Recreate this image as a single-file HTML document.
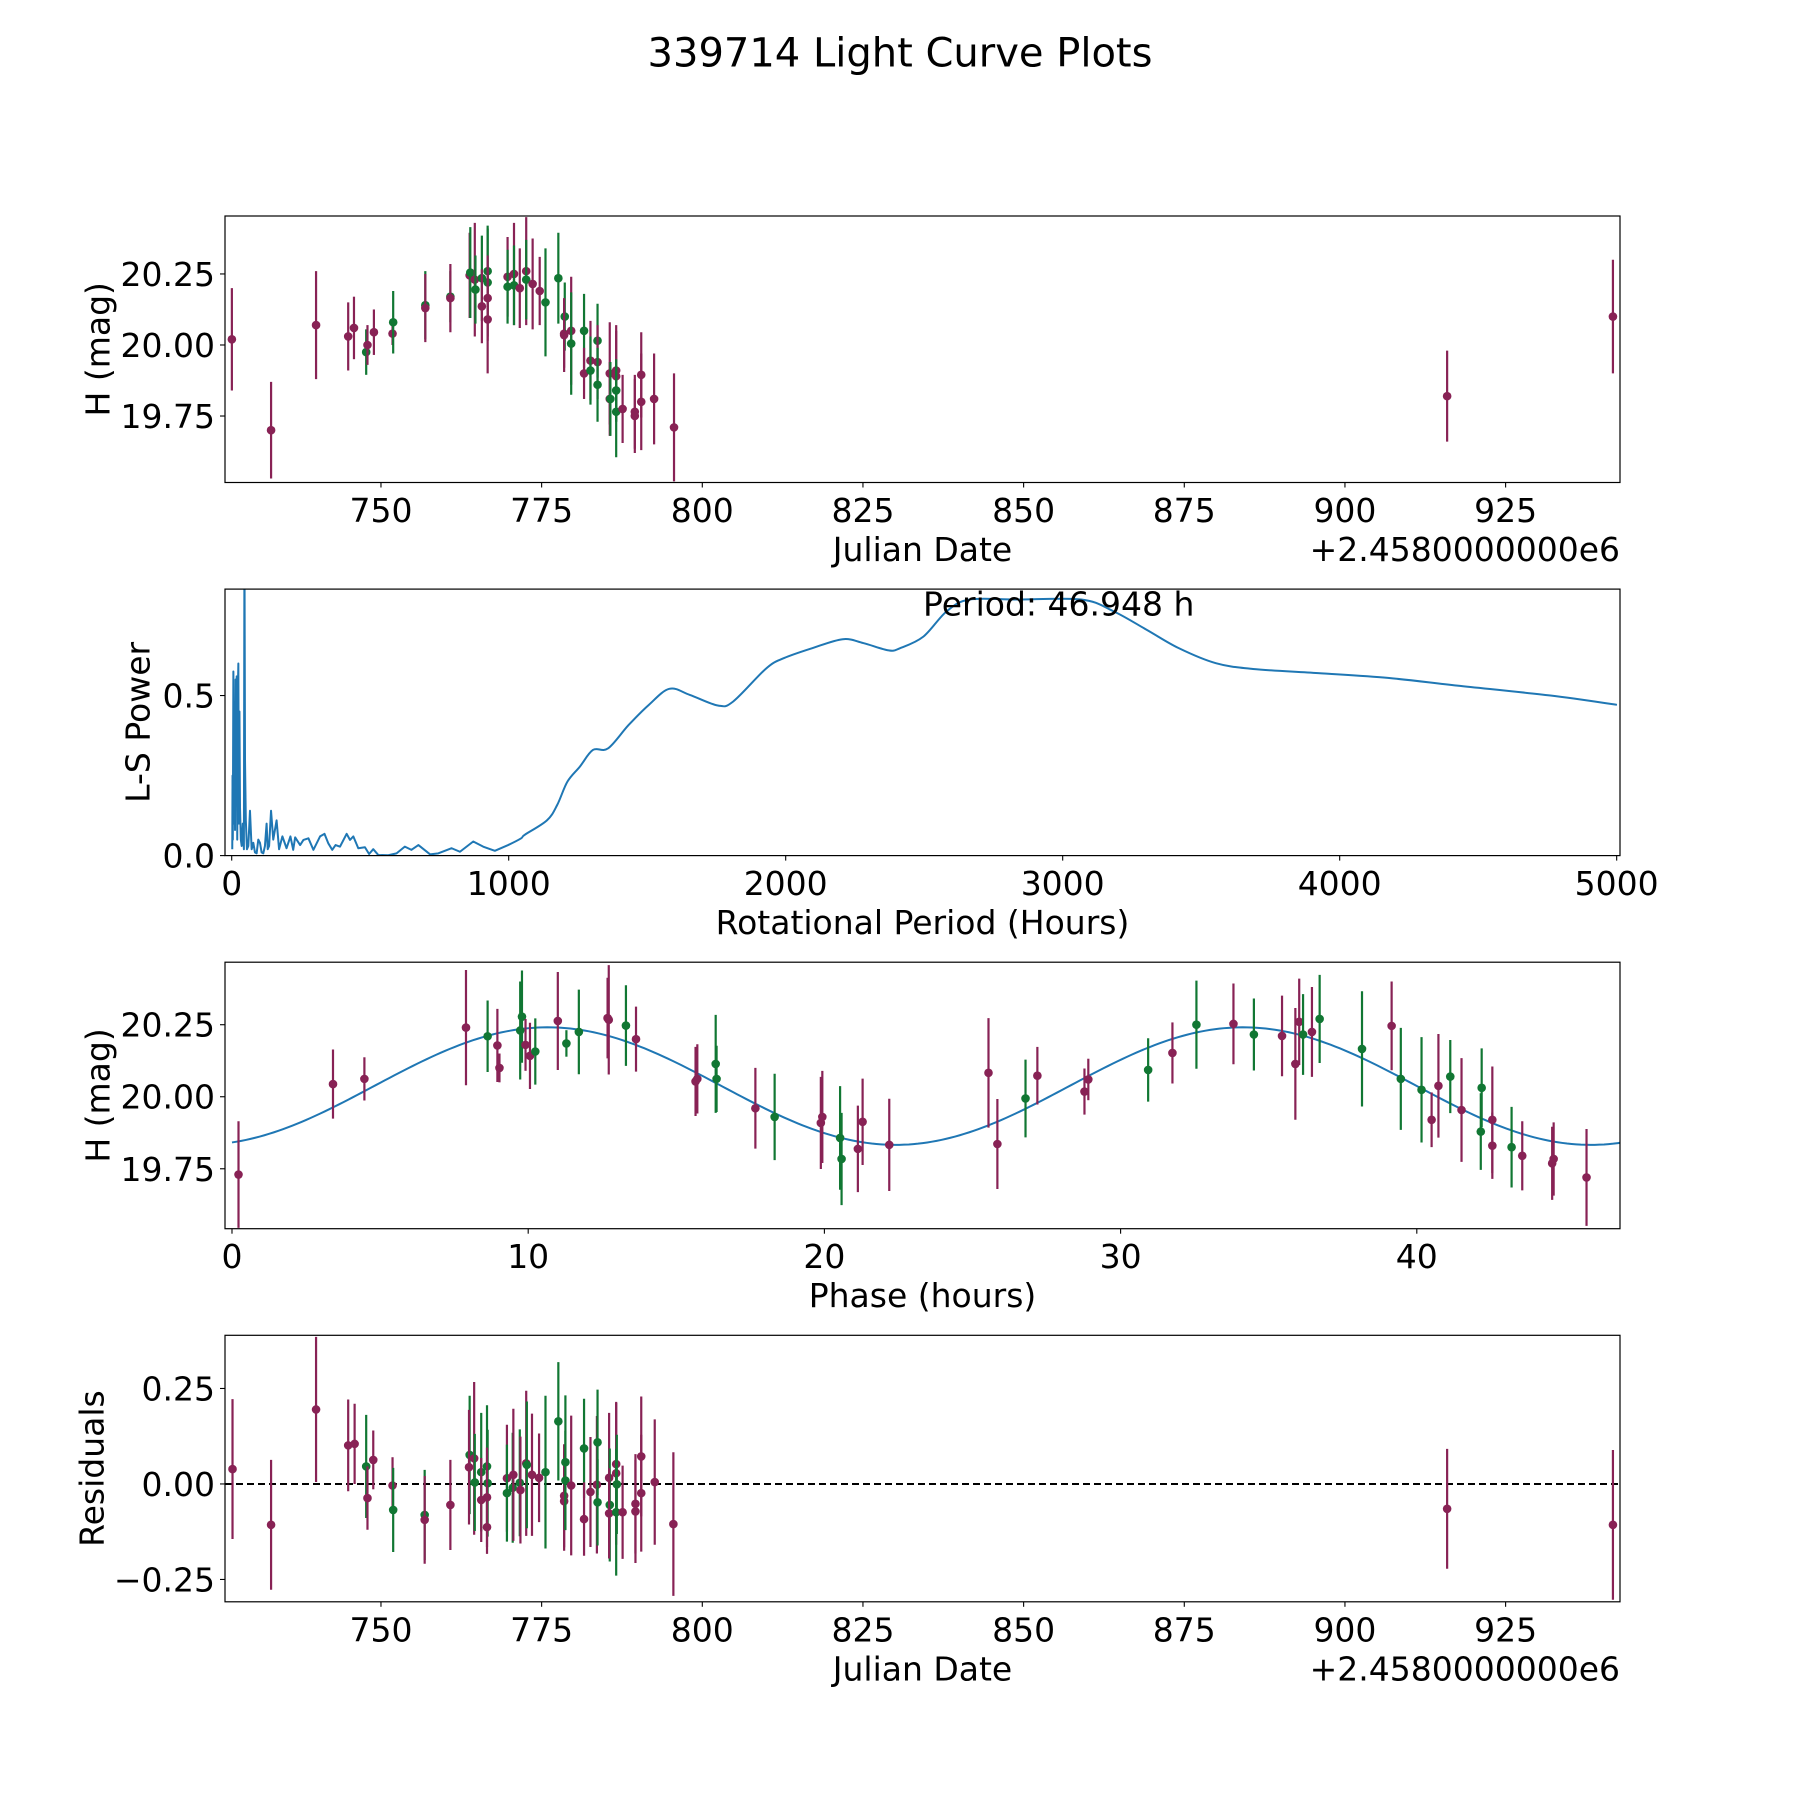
<!DOCTYPE html>
<html><head><meta charset="utf-8"><title>339714 Light Curve Plots</title>
<style>
html,body{margin:0;padding:0;background:#fff;}
svg{display:block;font-family:"DejaVu Sans","Liberation Sans",sans-serif;}
</style></head>
<body>
<svg id="fig" width="1800" height="1800" viewBox="0 0 1800 1800" xmlns="http://www.w3.org/2000/svg">
<rect width="1800" height="1800" fill="#fff"/>
<text x="900" y="66.7" font-size="40" text-anchor="middle">339714 Light Curve Plots</text>
</svg>
<script>
// ---------- Panel 1: H vs Julian Date ----------
const lcJD = [726.8,732.9,739.9,744.9,745.8,747.7,747.9,748.9,751.8,751.9,756.9,756.9,760.8,760.8,763.8,763.9,764.6,764.7,765.7,765.7,766.6,766.6,766.6,766.6,769.7,769.7,770.7,770.7,771.6,772.6,772.6,773.6,774.7,775.6,777.6,778.5,778.6,778.5,779.6,779.6,781.6,781.6,782.6,782.6,783.7,783.7,783.7,785.6,785.6,785.7,786.6,786.6,786.6,786.6,787.6,789.5,789.5,790.5,790.5,792.5,795.6,915.9,941.7];
const lcMag = [20.02,19.70,20.07,20.03,20.06,19.975,20.00,20.045,20.04,20.08,20.14,20.13,20.17,20.165,20.245,20.255,20.23,20.195,20.235,20.136,20.26,20.22,20.165,20.09,20.24,20.205,20.25,20.21,20.20,20.26,20.23,20.215,20.19,20.15,20.235,20.04,20.10,20.035,20.05,20.005,20.05,19.90,19.945,19.91,20.015,19.94,19.86,19.90,19.81,19.81,19.91,19.89,19.84,19.765,19.775,19.765,19.75,19.895,19.80,19.81,19.71,19.82,20.10];
const lcErr = [0.18,0.17,0.19,0.12,0.11,0.08,0.07,0.08,0.04,0.11,0.12,0.12,0.09,0.12,0.15,0.16,0.2,0.12,0.15,0.13,0.16,0.19,0.15,0.19,0.14,0.13,0.18,0.14,0.14,0.19,0.14,0.16,0.12,0.19,0.16,0.12,0.12,0.13,0.19,0.18,0.13,0.09,0.14,0.12,0.13,0.13,0.13,0.18,0.13,0.13,0.16,0.16,0.11,0.16,0.12,0.13,0.13,0.15,0.17,0.16,0.19,0.16,0.2];
const lcBand = "PPPPPGPPPGGPGPPGPGGPGGPPPGPGPPGPPGGPGPPGGPPGGPGPPGPPGGPPPPPPPPP";

// ---------- Panel 2: Lomb-Scargle ----------
const lsPeriod = [2,3,4,6,8,10,12,14,16,18,20,22,24,26,28,30,33,36,40,44,46,48,51,55,60,66,72,78,84,90,96,102,108,114,120,126,130,135,142,150,156,162,171,183,198,212,222,229,247,259,277,295,319,335,349,363,375,391,415,427,439,457,481,496,511,529,565,595,625,649,674,716,746,794,824,872,908,950,998,1045,1058,1138,1175,1212,1257,1304,1359,1433,1506,1580,1654,1755,1810,1930,1994,2096,2206,2280,2372,2413,2497,2581,2664,2832,3067,3184,3302,3419,3553,3687,3922,4174,4425,4761,5001];
const lsPower = [0.02,0.25,0.05,0.575,0.1,0.48,0.08,0.55,0.2,0.56,0.05,0.5,0.6,0.1,0.45,0.15,0.05,0.03,0.1,0.02,1.0,0.3,0.11,0.02,0.03,0.14,0.02,0.04,0.01,0.007,0.05,0.04,0.01,0.007,0.03,0.1,0.02,0.03,0.14,0.05,0.08,0.11,0.02,0.06,0.023,0.06,0.018,0.057,0.033,0.049,0.054,0.018,0.06,0.068,0.038,0.018,0.033,0.028,0.068,0.049,0.06,0.023,0.026,0.005,0.02,0.002,0.001,0.007,0.028,0.018,0.033,0.004,0.007,0.023,0.012,0.044,0.028,0.015,0.033,0.054,0.065,0.11,0.158,0.231,0.278,0.33,0.335,0.408,0.471,0.521,0.502,0.469,0.481,0.585,0.617,0.648,0.676,0.664,0.641,0.648,0.684,0.763,0.80,0.80,0.80,0.763,0.706,0.648,0.601,0.583,0.57,0.555,0.531,0.50,0.471];
const bestPeriod = 46.948;

// ---------- Panel 3: phase folded ----------
const phPhase = [0.22,3.41,4.47,7.9,8.63,8.96,9.03,9.73,9.79,9.91,10.06,10.24,11.0,11.29,11.71,12.68,12.72,13.3,13.64,15.65,15.71,16.33,16.36,17.67,18.32,19.88,19.93,20.53,20.58,21.13,21.29,22.19,25.54,25.84,26.79,27.19,28.78,28.91,30.93,31.75,32.56,33.81,34.5,35.45,35.9,36.03,36.16,36.46,36.72,38.15,39.15,39.46,40.16,40.5,40.73,41.13,41.51,42.16,42.19,42.55,42.55,43.2,43.56,44.57,44.62,45.73];
const phMag = [19.73,20.044,20.062,20.24,20.21,20.178,20.10,20.23,20.278,20.18,20.142,20.157,20.263,20.185,20.225,20.273,20.267,20.247,20.2,20.053,20.062,20.114,20.062,19.96,19.93,19.909,19.93,19.857,19.784,19.819,19.913,19.833,20.083,19.836,19.994,20.073,20.018,20.06,20.093,20.152,20.25,20.253,20.216,20.211,20.114,20.26,20.216,20.225,20.27,20.166,20.246,20.062,20.024,19.92,20.038,20.07,19.954,19.879,20.031,19.92,19.83,19.825,19.795,19.769,19.784,19.72];
const phErr = [0.185,0.12,0.075,0.2,0.124,0.127,0.05,0.17,0.16,0.09,0.115,0.115,0.17,0.046,0.147,0.14,0.19,0.14,0.113,0.12,0.12,0.17,0.115,0.14,0.15,0.16,0.16,0.18,0.16,0.15,0.15,0.16,0.19,0.156,0.135,0.10,0.08,0.072,0.11,0.106,0.153,0.14,0.125,0.14,0.194,0.15,0.14,0.156,0.153,0.2,0.154,0.177,0.183,0.095,0.18,0.127,0.18,0.133,0.137,0.185,0.115,0.14,0.12,0.127,0.127,0.168];
const phBand = "PPPPGPPGGPPGPGGPPGPPPGGPGPPGGPPPPPGPPPGPGPGPPPGPGGPGGPPGPGGPPGPPPP";
const fitMean = 20.037, fitAmp = 0.204, fitMinPhase = 22.4;

// ---------- Panel 4: residuals ----------
const resJD = [726.9,732.9,739.9,744.9,745.9,747.7,747.9,748.8,751.8,751.9,756.8,756.8,760.8,763.8,763.7,764.5,764.6,765.6,765.6,766.5,766.6,766.5,766.5,769.6,769.6,770.5,770.6,771.6,771.7,772.6,772.7,773.5,774.6,775.6,777.6,778.5,778.5,778.7,778.7,779.6,781.6,781.6,782.6,783.6,783.7,783.7,785.5,785.6,785.5,786.6,786.6,786.7,786.6,787.6,789.6,789.6,790.5,790.5,792.6,795.5,915.9,941.7];
const resVal = [0.039,-0.107,0.195,0.101,0.105,0.046,-0.037,0.063,-0.004,-0.068,-0.081,-0.094,-0.055,0.076,0.044,0.067,0.004,0.031,-0.042,0.046,0.002,-0.035,-0.113,0.015,-0.024,-0.01,0.024,0.003,-0.016,0.054,0.05,0.024,0.016,0.031,0.164,-0.031,-0.045,0.057,0.009,-0.004,0.093,-0.092,-0.021,-0.002,0.109,-0.048,0.016,-0.055,-0.077,0.052,0.028,-0.001,-0.074,-0.074,-0.052,-0.072,0.072,-0.024,0.005,-0.105,-0.065,-0.107];
const resErr = [0.183,0.17,0.19,0.12,0.105,0.135,0.083,0.077,0.074,0.11,0.118,0.115,0.118,0.155,0.15,0.2,0.127,0.155,0.11,0.16,0.14,0.13,0.07,0.14,0.127,0.144,0.173,0.14,0.14,0.19,0.166,0.16,0.116,0.2,0.155,0.135,0.13,0.175,0.13,0.183,0.13,0.096,0.144,0.18,0.138,0.113,0.17,0.148,0.118,0.16,0.187,0.13,0.166,0.122,0.13,0.135,0.157,0.153,0.164,0.188,0.157,0.196];
const resBand = "PPPPPGPPPGGPPGPPGGPGGPPPGGPGPPGPPGGPPGGPGPPPGGPGPPPGGPPPPPPPPP";

const jdTicks = [750,775,800,825,850,875,900,925];
const lsTicks = [0,1000,2000,3000,4000,5000];
const phTicks = [0,10,20,30,40];
const magTicks = [19.75,20.00,20.25];
const lsYTicks = [0.0,0.5];
const resTicks = [-0.25,0.00,0.25];

const NS = "http://www.w3.org/2000/svg";
const svg = document.getElementById('fig');
const PURPLE = "#882255", GREEN = "#117733", BLUE = "#1f77b4";
const L = 225, R = 1620;
function mk(tag, attrs, parent) {
  const e = document.createElementNS(NS, tag);
  for (const k in attrs) e.setAttribute(k, attrs[k]);
  (parent || svg).appendChild(e);
  return e;
}
function lin(d0, d1, r0, r1) { return v => r0 + (v - d0) * (r1 - r0) / (d1 - d0); }

function makePanel(name, top, bottom, xd, yd) {
  const g = mk('g', {});
  
  
  const clipId = name + '-clip';
  const cp = mk('clipPath', {id: clipId}, g);
  mk('rect', {x: L, y: top, width: R - L, height: bottom - top}, cp);
  const plot = mk('g', {'clip-path': 'url(#' + clipId + ')'}, g);
  
  
  return {g, plot, top, bottom, x: lin(xd[0], xd[1], L, R), y: lin(yd[0], yd[1], bottom, top)};
}
function frame(p, xticks, xfmt, yticks, yfmt, xlabel, ylabel, ylabelX, offsetText) {
  const fr = mk('rect', {x: L, y: p.top, width: R - L, height: p.bottom - p.top, fill: 'none', stroke: '#000', 'stroke-width': 1.2}, p.g);
  
  
  xticks.forEach(v => {
    const xx = p.x(v);
    mk('line', {x1: xx, x2: xx, y1: p.bottom, y2: p.bottom + 5, stroke: '#000', 'stroke-width': 1.1}, p.g);
    const t = mk('text', {x: xx, y: p.bottom + 39.5, 'font-size': 33, 'text-anchor': 'middle'}, p.g);
    
    
    t.textContent = xfmt(v);
  });
  yticks.forEach(v => {
    const yy = p.y(v);
    mk('line', {x1: L - 5, x2: L, y1: yy, y2: yy, stroke: '#000', 'stroke-width': 1.1}, p.g);
    const t = mk('text', {x: L - 10, y: yy + 12, 'font-size': 33, 'text-anchor': 'end'}, p.g);
    
    
    t.textContent = yfmt(v);
  });
  const xl = mk('text', {x: (L + R) / 2, y: p.bottom + 78.5, 'font-size': 33, 'text-anchor': 'middle'}, p.g);
  
  
  xl.textContent = xlabel;
  const cy = (p.top + p.bottom) / 2;
  const yl = mk('text', {x: ylabelX, y: cy, 'font-size': 33, 'text-anchor': 'middle', 'dominant-baseline': 'central', transform: 'rotate(-90 ' + ylabelX + ' ' + cy + ')'}, p.g);
  
  
  yl.textContent = ylabel;
  if (offsetText) {
    const o = mk('text', {x: R, y: p.bottom + 78.5, 'font-size': 33, 'text-anchor': 'end'}, p.g);
    
    
    o.textContent = offsetText;
  }
}
function errPoints(p, xs, ys, es, band, name) {
  for (let i = 0; i < xs.length; i++) {
    const c = band[i] === 'G' ? GREEN : PURPLE;
    const xx = p.x(xs[i]);
    const bar = mk('line', {x1: xx, x2: xx, y1: p.y(ys[i] - es[i]), y2: p.y(ys[i] + es[i]), stroke: c, 'stroke-width': 2.2}, p.plot);
    
    
    const pt = mk('circle', {cx: xx, cy: p.y(ys[i]), r: 4.3, fill: c}, p.plot);
    
    
  }
}
const f2 = v => v.toFixed(2);
const fint = v => String(v);
const fres = v => (v < 0 ? '\u2212' : '') + Math.abs(v).toFixed(2);

// Panel 1
const p1 = makePanel('light-curve-panel', 216, 482.5, [725.73, 942.8], [19.516, 20.454]);
errPoints(p1, lcJD, lcMag, lcErr, lcBand, 'observation');
frame(p1, jdTicks, fint, magTicks, f2, 'Julian Date', 'H (mag)', 98, '+2.4580000000e6');

// Panel 2
const p2 = makePanel('periodogram-panel', 589.1, 855.6, [-24.2, 5012], [0, 0.8325]);
const pts = lsPeriod.map((v, i) => [p2.x(v), p2.y(lsPower[i])]);
let d = 'M' + pts[0][0].toFixed(2) + ' ' + pts[0][1].toFixed(2);
for (let i = 1; i < pts.length; i++) {
  if (lsPeriod[i] < 1000) { d += 'L' + pts[i][0].toFixed(2) + ' ' + pts[i][1].toFixed(2); continue; }
  const p0 = pts[Math.max(i - 2, 0)], pa = pts[i - 1], pb = pts[i], p3p = pts[Math.min(i + 1, pts.length - 1)];
  const c1x = pa[0] + (pb[0] - p0[0]) / 6, c1y = pa[1] + (pb[1] - p0[1]) / 6;
  const c2x = pb[0] - (p3p[0] - pa[0]) / 6, c2y = pb[1] - (p3p[1] - pa[1]) / 6;
  d += 'C' + c1x.toFixed(2) + ' ' + c1y.toFixed(2) + ' ' + c2x.toFixed(2) + ' ' + c2y.toFixed(2) + ' ' + pb[0].toFixed(2) + ' ' + pb[1].toFixed(2);
}
const ls = mk('path', {d: d, fill: 'none', stroke: BLUE, 'stroke-width': 2, 'stroke-linejoin': 'round'}, p2.plot);


frame(p2, lsTicks, fint, lsYTicks, v => v.toFixed(1), 'Rotational Period (Hours)', 'L-S Power', 138, null);
const pt2 = mk('text', {x: 923, y: 615.7, 'font-size': 33}, p2.g);


pt2.textContent = 'Period: ' + bestPeriod.toFixed(3) + ' h';

// Panel 3
const p3 = makePanel('phase-panel', 962.2, 1228.7, [-0.236, 46.86], [19.542, 20.467]);
let fd = '';
for (let i = 0; i <= 300; i++) {
  const ph = i * bestPeriod / 300;
  const m = fitMean - fitAmp * Math.cos(2 * Math.PI * (ph - fitMinPhase) / (bestPeriod / 2));
  fd += (i ? 'L' : 'M') + p3.x(ph).toFixed(2) + ' ' + p3.y(m).toFixed(2);
}
const fit = mk('path', {d: fd, fill: 'none', stroke: BLUE, 'stroke-width': 2}, p3.plot);


errPoints(p3, phPhase, phMag, phErr, phBand, 'phased');
frame(p3, phTicks, fint, magTicks, f2, 'Phase (hours)', 'H (mag)', 98, null);

// Panel 4
const p4 = makePanel('residuals-panel', 1335.3, 1601.8, [725.73, 942.8], [-0.3085, 0.3892]);
const zl = mk('line', {x1: L, x2: R, y1: p4.y(0), y2: p4.y(0), stroke: '#000', 'stroke-width': 2, 'stroke-dasharray': '7,4'}, p4.plot);


errPoints(p4, resJD, resVal, resErr, resBand, 'residual');
frame(p4, jdTicks, fint, resTicks, fres, 'Julian Date', 'Residuals', 92, '+2.4580000000e6');
</script>
</body></html>
